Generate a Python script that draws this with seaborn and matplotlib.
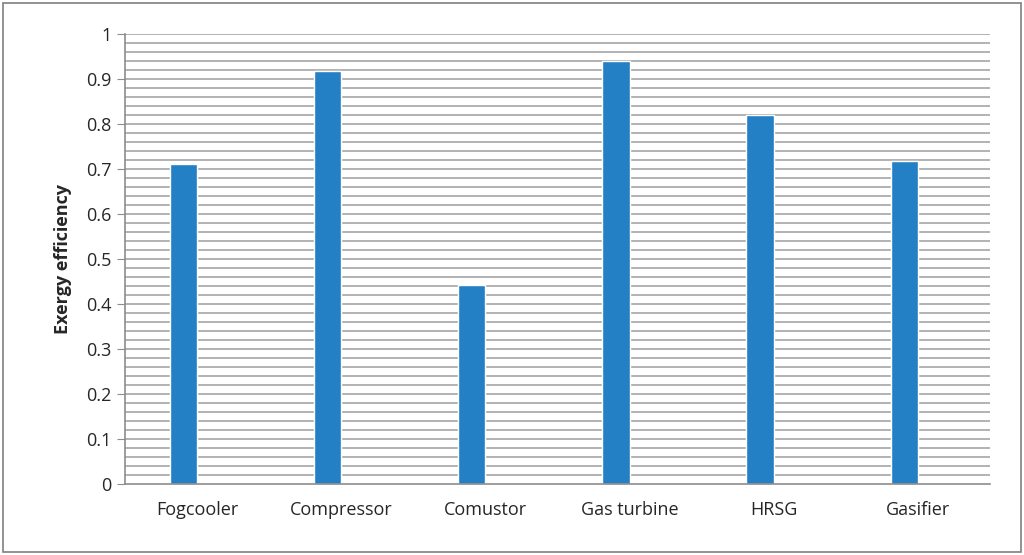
import matplotlib
matplotlib.use("Agg")
import matplotlib.pyplot as plt
import seaborn as sns
import pandas as pd
import numpy as np
from matplotlib.patches import Rectangle

categories = ["Fogcooler", "Compressor", "Comustor", "Gas turbine", "HRSG", "Gasifier"]
values = [0.711, 0.918, 0.443, 0.940, 0.820, 0.718]

sns.set_style("white")
plt.rcParams['font.family'] = ['Open Sans', 'DejaVu Sans']

df = pd.DataFrame({"cat": categories * 2,
                   "val": values + [np.nan] * len(values),
                   "s": ["a"] * 6 + ["b"] * 6})

fig = plt.figure(figsize=(10.24, 5.55), dpi=100)
ax = fig.add_axes([0.122, 0.128, 0.845, 0.81])
sns.barplot(data=df, x="cat", y="val", hue="s", palette=["#2480C4", "#ED7D31"],
            width=0.38, ax=ax, legend=False, saturation=1)
ax.set_ylim(0, 1)
ax.set_xlim(-0.5, 5.5)
ax.set_yticks(np.arange(0, 1.01, 0.1))
ax.set_yticklabels(["0", "0.1", "0.2", "0.3", "0.4", "0.5", "0.6", "0.7", "0.8", "0.9", "1"])
for y in np.arange(0.02, 1.001, 0.02):
    ax.axhline(y, color="#A6A6A6", lw=1.2, zorder=0)
ax.set_axisbelow(True)
for s in ["top", "right"]:
    ax.spines[s].set_visible(False)
for s in ["left", "bottom"]:
    ax.spines[s].set_color("#8C8C8C")
    ax.spines[s].set_linewidth(1.2)
ax.tick_params(axis="y", length=6, color="#8C8C8C", labelsize=13, direction="out", left=True)
ax.tick_params(axis="x", length=0, labelsize=13, pad=12)
ax.set_xlabel("")
ax.set_ylabel("Exergy efficiency", fontsize=13, fontweight="bold", labelpad=10)
fig.patches.append(Rectangle((0.003, 0.005), 0.994, 0.99, transform=fig.transFigure,
                             fill=False, edgecolor="#7F7F7F", lw=1.2))
fig.savefig("out.png", dpi=100)
